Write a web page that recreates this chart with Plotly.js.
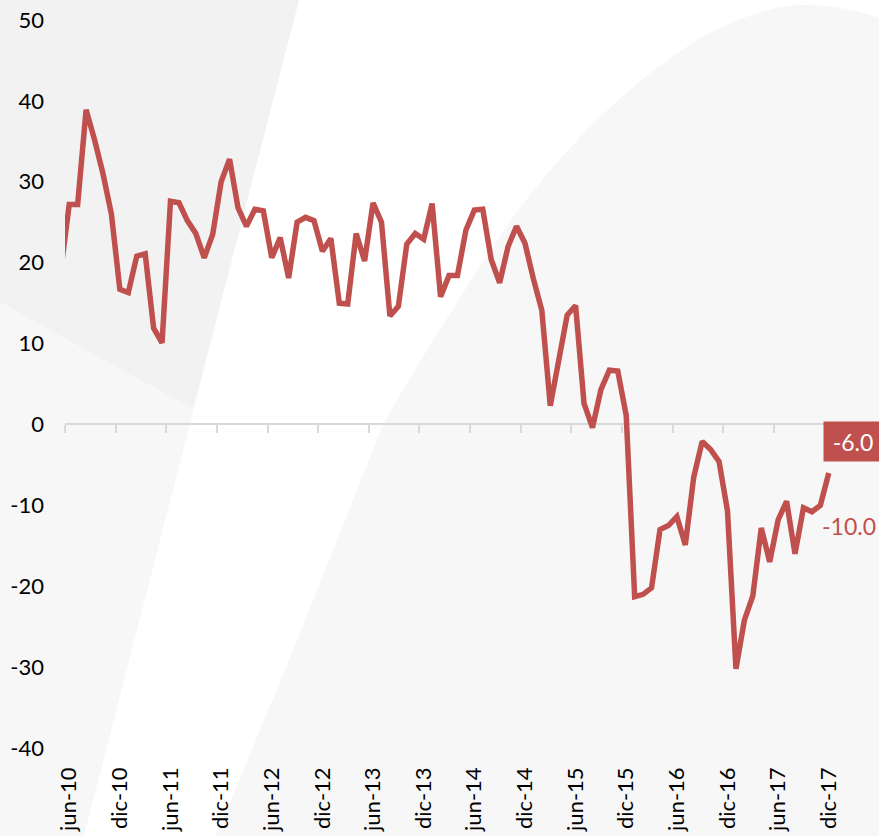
<!DOCTYPE html>
<html>
<head>
<meta charset="utf-8">
<script src="https://cdn.plot.ly/plotly-3.0.1.min.js"></script>
<style>
  html, body { margin: 0; padding: 0; background: #ffffff; }
  #wrap { position: relative; width: 879px; height: 836px; overflow: hidden; }
  #bg { position: absolute; left: 0; top: 0; }
  #chart { position: absolute; left: 0; top: 0; width: 879px; height: 836px; }
</style>
</head>
<body>
<div id="wrap">
  <svg id="bg" width="879" height="836" viewBox="0 0 879 836" xmlns="http://www.w3.org/2000/svg">
    <rect x="0" y="0" width="879" height="836" fill="#ffffff"/>
    <polygon points="0,0 299,0 84,836 0,836" fill="#f7f7f7"/>
    <polygon points="0,0 299,0 193,408 140,380 0,302" fill="#f2f2f2"/>
    <path d="M216,836 L258,735 L300,633 L342,528 L383,424 Q440,325 513,217 Q600,100 700,38 Q760,6 800,5 Q845,5 879,18 L879,836 Z" fill="#f7f7f7"/>
  </svg>
  <div id="chart"></div>
</div>
<script>
// Month categories (Spanish abbreviations), from may-10 to dic-17
const monthNames = ['ene','feb','mar','abr','may','jun','jul','ago','sep','oct','nov','dic'];
const startYear = 2010, startMonth = 4;   // may-10
const endYear = 2017, endMonth = 11;      // dic-17

const categories = [];
for (let y = startYear; y <= endYear; y++) {
  const m0 = (y === startYear) ? startMonth : 0;
  const m1 = (y === endYear) ? endMonth : 11;
  for (let m = m0; m <= m1; m++) {
    categories.push(monthNames[m] + '-' + String(y).slice(2));
  }
}

// Series values, one per month may-10 .. dic-17
const values = [
  19.0,                                   // may-10
  27.2, 27.2, 38.9, 35.2, 31.0, 26.0,     // jun-10 .. nov-10
  16.7, 16.3, 20.8, 21.1, 11.9, 10.1,     // dic-10 .. may-11
  27.6, 27.4, 25.2, 23.6, 20.6, 23.5,     // jun-11 .. nov-11
  30.0, 32.8, 26.8, 24.5, 26.6, 26.4,     // dic-11 .. may-12
  20.6, 23.1, 18.1, 25.0, 25.6, 25.2,     // jun-12 .. nov-12
  21.4, 23.0, 15.0, 14.9, 23.6, 20.2,     // dic-12 .. may-13
  27.4, 25.0, 13.4, 14.6, 22.3, 23.6,     // jun-13 .. nov-13
  22.9, 27.3, 15.8, 18.4, 18.4, 24.0,     // dic-13 .. may-14
  26.5, 26.6, 20.4, 17.5, 22.0, 24.5,     // jun-14 .. nov-14
  22.4, 18.0, 14.1, 2.3, 8.0, 13.5,       // dic-14 .. may-15
  14.7, 2.6, -0.4, 4.3, 6.7, 6.6,         // jun-15 .. nov-15
  1.1, -21.3, -21.0, -20.2, -13.0, -12.5, // dic-15 .. may-16
  -11.4, -14.9, -6.5, -2.1, -3.1, -4.6,   // jun-16 .. nov-16
  -10.7, -30.2, -24.2, -21.2, -12.8, -17.0, // dic-16 .. may-17
  -11.8, -9.5, -16.0, -10.3, -10.8, -10.0, // jun-17 .. nov-17
  -6.0                                    // dic-17
];

// Tick labels shown on the category axis
const tickLabels = ['jun-10','dic-10','jun-11','dic-11','jun-12','dic-12','jun-13','dic-13',
                    'jun-14','dic-14','jun-15','dic-15','jun-16','dic-16','jun-17','dic-17'];

const yTickVals = [-40, -30, -20, -10, 0, 10, 20, 30, 40, 50];
const yTickLabels = ['-40', '-30', '-20', '-10', '0', '10', '20', '30', '40', '50'];

// Labels at the end of the series
const lastLabel = '-6.0';
const prevLabel = '-10.0';

const xIdx = categories.map((_, i) => i);
const tickIdx = tickLabels.map(t => categories.indexOf(t));
const boundaryIdx = tickIdx.map(i => i - 0.5);
const lastIdx = categories.length - 1;
const xRange = [tickIdx[0] - 0.5, lastIdx + 0.5];

const red = '#c0504d';
const font = 'Lato, "Open Sans", "DejaVu Sans", sans-serif';

const traces = [
  {
    type: 'scatter', mode: 'lines',
    x: xIdx, y: values,
    line: { color: red, width: 5.5 },
    hoverinfo: 'skip', showlegend: false,
    xaxis: 'x', yaxis: 'y'
  },
  {
    type: 'scatter', mode: 'lines',
    x: [xRange[0]], y: [0],
    line: { color: 'rgba(0,0,0,0)', width: 0 },
    hoverinfo: 'skip', showlegend: false,
    xaxis: 'x2', yaxis: 'y'
  }
];

const layout = {
  width: 879, height: 836,
  margin: { l: 65, r: 46, t: 20, b: 88, pad: 0 },
  paper_bgcolor: 'rgba(0,0,0,0)',
  plot_bgcolor: 'rgba(0,0,0,0)',
  showlegend: false,
  font: { family: font, color: '#000000', size: 22 },
  xaxis: {
    range: xRange,
    tickmode: 'array', tickvals: tickIdx, ticktext: tickLabels,
    tickangle: -90, ticks: '', showline: false, showgrid: false, zeroline: false,
    tickfont: { family: font, size: 22, color: '#000000' },
    ticklabelstandoff: 14,
    fixedrange: true
  },
  xaxis2: {
    overlaying: 'x', anchor: 'free', position: 4 / 9, side: 'bottom',
    range: xRange,
    tickmode: 'array', tickvals: boundaryIdx,
    ticks: 'outside', ticklen: 8, tickwidth: 2, tickcolor: '#d9d9d9',
    showline: true, linecolor: '#d9d9d9', linewidth: 2,
    showticklabels: false, showgrid: false, zeroline: false,
    layer: 'below traces',
    fixedrange: true
  },
  yaxis: {
    range: [-40, 50],
    tickmode: 'array', tickvals: yTickVals, ticktext: yTickLabels,
    ticks: '', showline: false, showgrid: false, zeroline: false,
    tickfont: { family: font, size: 22, color: '#000000' },
    ticklabelstandoff: 20,
    fixedrange: true
  },
  annotations: [
    {
      x: lastIdx, y: values[lastIdx], xref: 'x', yref: 'y',
      text: lastLabel, showarrow: false,
      xanchor: 'left', yanchor: 'bottom', xshift: -6, yshift: 11,
      bgcolor: red, borderpad: 0, width: 58, height: 39,
      font: { family: font, size: 23, color: '#ffffff' }
    },
    {
      x: lastIdx, y: values[lastIdx - 1], xref: 'x', yref: 'y',
      text: prevLabel, showarrow: false,
      xanchor: 'left', yanchor: 'middle', xshift: -9, yshift: -21,
      font: { family: font, size: 23, color: red }
    }
  ]
};

Plotly.newPlot('chart', traces, layout, { displayModeBar: false, staticPlot: true });
</script>
</body>
</html>
